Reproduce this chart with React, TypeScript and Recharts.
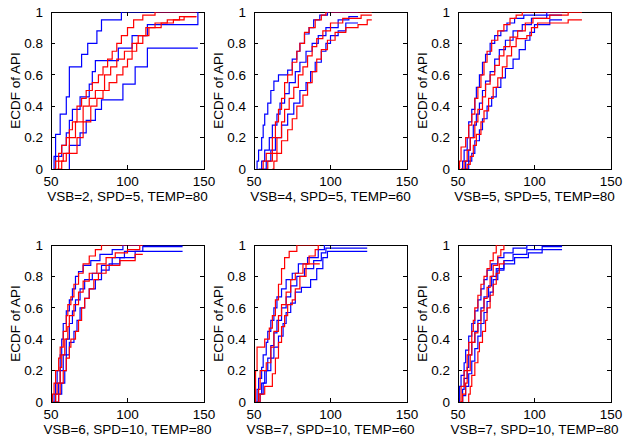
import React from 'react';
import { LineChart, Line, XAxis, YAxis, ReferenceArea } from 'recharts';

// axis ticks shared by all six panels
const xTicks = [50, 100, 150];
const yTicks = [0, 0.2, 0.4, 0.6, 0.8, 1];

const panelLabels = [
  'VSB=2, SPD=5, TEMP=80',
  'VSB=4, SPD=5, TEMP=60',
  'VSB=5, SPD=5, TEMP=80',
  'VSB=6, SPD=10, TEMP=80',
  'VSB=7, SPD=10, TEMP=60',
  'VSB=7, SPD=10, TEMP=80',
];

// each curve: [API, ECDF] step points (upper bound, estimate, lower bound)
const p1Blue = [
  [[53, 0], [53, 0.22], [56, 0.35], [60, 0.46], [62, 0.65], [70, 0.73], [74, 0.8], [80, 0.88], [83, 0.95], [96, 1], [146, 1]],
  [[52, 0], [52, 0.08], [57, 0.15], [60, 0.23], [62, 0.31], [64, 0.38], [69, 0.46], [75, 0.54], [77, 0.62], [79, 0.69], [94, 0.77], [103, 0.85], [113, 0.92], [146, 1]],
  [[62, 0], [62, 0.15], [69, 0.23], [73, 0.31], [79, 0.38], [83, 0.44], [97, 0.54], [105, 0.65], [113, 0.77], [146, 0.77]],
];
const p1Red = [
  [[52, 0], [53, 0.05], [55, 0.1], [57, 0.15], [60, 0.2], [62, 0.25], [64, 0.3], [67, 0.4], [70, 0.45], [73, 0.5], [77, 0.55], [81, 0.6], [84, 0.65], [87, 0.7], [90, 0.75], [93, 0.8], [96, 0.85], [100, 0.9], [104, 0.95], [110, 0.98], [118, 1], [145, 1]],
  [[54, 0], [55, 0.05], [58, 0.1], [62, 0.2], [66, 0.3], [71, 0.4], [75, 0.45], [79, 0.5], [85, 0.6], [89, 0.65], [93, 0.7], [98, 0.75], [103, 0.8], [107, 0.85], [112, 0.9], [118, 0.93], [126, 0.95], [134, 0.97], [145, 0.97]],
  [[55, 0], [57, 0.05], [60, 0.1], [67, 0.2], [71, 0.3], [76, 0.4], [80, 0.45], [84, 0.5], [88, 0.55], [93, 0.6], [97, 0.65], [100, 0.7], [103, 0.75], [106, 0.8], [110, 0.85], [114, 0.9], [122, 0.93], [130, 0.95], [137, 0.97], [145, 0.97]],
];

const p2Blue = [
  [[52, 0], [52, 0.05], [53, 0.12], [55, 0.2], [56, 0.28], [57, 0.35], [59, 0.42], [61, 0.5], [63, 0.56], [66, 0.6], [72, 0.63], [75, 0.7], [78, 0.75], [80, 0.8], [83, 0.86], [86, 0.9], [89, 0.95], [93, 0.98], [98, 1], [118, 1]],
  [[53, 0], [55, 0.05], [57, 0.12], [60, 0.2], [62, 0.28], [65, 0.35], [67, 0.42], [70, 0.48], [73, 0.55], [77, 0.62], [80, 0.68], [84, 0.75], [88, 0.8], [92, 0.85], [97, 0.9], [105, 0.95], [112, 0.97], [118, 0.97]],
  [[55, 0], [58, 0.05], [61, 0.12], [64, 0.2], [68, 0.28], [72, 0.35], [76, 0.42], [80, 0.5], [84, 0.55], [87, 0.62], [90, 0.68], [94, 0.75], [97, 0.8], [100, 0.85], [105, 0.88], [110, 0.93], [118, 0.93]],
];
const p2Red = [
  [[55, 0], [56, 0.05], [58, 0.1], [62, 0.2], [64, 0.3], [66, 0.38], [68, 0.45], [70, 0.55], [72, 0.6], [75, 0.68], [78, 0.75], [80, 0.8], [83, 0.87], [86, 0.9], [90, 0.95], [94, 0.98], [97, 1], [127, 1]],
  [[58, 0], [59, 0.05], [62, 0.1], [65, 0.2], [68, 0.3], [70, 0.38], [73, 0.45], [76, 0.52], [79, 0.6], [82, 0.65], [85, 0.72], [88, 0.78], [91, 0.83], [95, 0.88], [100, 0.93], [108, 0.96], [120, 0.98], [127, 0.98]],
  [[62, 0], [63, 0.05], [65, 0.1], [68, 0.18], [72, 0.25], [75, 0.32], [78, 0.4], [82, 0.47], [85, 0.55], [88, 0.62], [91, 0.7], [94, 0.76], [98, 0.82], [103, 0.87], [110, 0.9], [118, 0.92], [124, 0.95], [127, 0.95]],
];

const p3Blue = [
  [[52, 0], [53, 0.05], [54, 0.12], [56, 0.2], [57, 0.3], [59, 0.38], [61, 0.45], [62, 0.52], [64, 0.6], [66, 0.68], [68, 0.73], [71, 0.8], [74, 0.85], [78, 0.88], [82, 0.93], [87, 0.96], [93, 0.98], [108, 1], [118, 1]],
  [[54, 0], [55, 0.05], [57, 0.12], [58, 0.2], [60, 0.28], [62, 0.35], [64, 0.42], [66, 0.5], [68, 0.56], [71, 0.62], [74, 0.7], [77, 0.76], [81, 0.82], [86, 0.88], [92, 0.92], [98, 0.96], [108, 0.98], [118, 0.98]],
  [[55, 0], [57, 0.05], [59, 0.1], [61, 0.18], [64, 0.25], [66, 0.32], [69, 0.4], [72, 0.46], [75, 0.52], [78, 0.58], [81, 0.64], [86, 0.7], [90, 0.76], [94, 0.82], [97, 0.87], [100, 0.92], [110, 0.95], [118, 0.95]],
];
const p3Red = [
  [[51, 0], [51, 0.05], [52, 0.14], [55, 0.2], [57, 0.28], [59, 0.35], [61, 0.45], [63, 0.52], [65, 0.6], [67, 0.68], [69, 0.75], [72, 0.82], [76, 0.88], [80, 0.92], [84, 0.96], [88, 0.98], [92, 1], [131, 1]],
  [[52, 0], [54, 0.05], [56, 0.12], [58, 0.2], [61, 0.3], [63, 0.38], [66, 0.46], [68, 0.54], [71, 0.6], [74, 0.66], [77, 0.72], [80, 0.78], [84, 0.84], [89, 0.88], [94, 0.93], [99, 0.96], [110, 0.98], [122, 1], [131, 1]],
  [[55, 0], [56, 0.03], [58, 0.08], [60, 0.15], [62, 0.22], [65, 0.3], [67, 0.37], [70, 0.45], [73, 0.52], [76, 0.58], [79, 0.65], [82, 0.72], [85, 0.78], [88, 0.83], [95, 0.85], [98, 0.9], [102, 0.93], [122, 0.95], [131, 0.95]],
];

const p4Blue = [
  [[51, 0], [52, 0.05], [53, 0.12], [54, 0.2], [56, 0.3], [57, 0.4], [58, 0.5], [60, 0.58], [62, 0.65], [64, 0.72], [66, 0.8], [68, 0.83], [71, 0.87], [76, 0.9], [82, 0.94], [90, 0.97], [97, 1], [136, 1]],
  [[52, 0], [53, 0.05], [55, 0.12], [56, 0.2], [58, 0.3], [60, 0.4], [62, 0.5], [64, 0.58], [66, 0.65], [69, 0.72], [72, 0.78], [77, 0.82], [83, 0.87], [90, 0.92], [98, 0.96], [110, 0.99], [136, 0.99]],
  [[53, 0], [55, 0.05], [57, 0.12], [59, 0.2], [60, 0.3], [62, 0.38], [65, 0.45], [67, 0.52], [69, 0.6], [72, 0.66], [75, 0.72], [79, 0.78], [83, 0.84], [88, 0.88], [95, 0.92], [105, 0.96], [136, 0.96]],
];
const p4Red = [
  [[51, 0], [51, 0.05], [52, 0.12], [53, 0.2], [55, 0.28], [56, 0.35], [58, 0.45], [60, 0.55], [61, 0.62], [63, 0.67], [65, 0.75], [68, 0.82], [71, 0.88], [75, 0.93], [79, 0.97], [83, 1], [110, 1]],
  [[52, 0], [53, 0.05], [54, 0.12], [56, 0.22], [57, 0.3], [59, 0.4], [61, 0.48], [62, 0.55], [65, 0.62], [68, 0.7], [71, 0.77], [75, 0.82], [80, 0.88], [86, 0.92], [92, 0.95], [100, 0.97], [108, 1], [110, 1]],
  [[53, 0], [55, 0.05], [56, 0.12], [58, 0.2], [60, 0.28], [62, 0.35], [63, 0.4], [66, 0.45], [68, 0.52], [70, 0.6], [72, 0.66], [75, 0.72], [78, 0.78], [81, 0.82], [86, 0.87], [95, 0.9], [105, 0.94], [110, 0.94]],
];

const p5Blue = [
  [[51, 0], [52, 0.08], [53, 0.15], [55, 0.22], [56, 0.3], [58, 0.38], [59, 0.45], [61, 0.52], [63, 0.6], [65, 0.67], [68, 0.72], [71, 0.78], [75, 0.82], [79, 0.88], [85, 0.92], [92, 0.97], [96, 1], [124, 1]],
  [[52, 0], [53, 0.05], [55, 0.12], [57, 0.2], [59, 0.28], [61, 0.36], [63, 0.44], [65, 0.52], [68, 0.6], [71, 0.67], [74, 0.74], [78, 0.8], [83, 0.85], [89, 0.9], [94, 0.95], [97, 0.98], [124, 0.98]],
  [[52, 0], [54, 0.05], [56, 0.12], [58, 0.2], [61, 0.28], [63, 0.35], [66, 0.42], [69, 0.5], [71, 0.57], [74, 0.63], [77, 0.7], [81, 0.73], [87, 0.78], [91, 0.85], [95, 0.92], [98, 0.96], [124, 0.96]],
];
const p5Red = [
  [[51, 0], [51, 0.2], [52, 0.35], [57, 0.4], [60, 0.47], [62, 0.55], [64, 0.65], [66, 0.75], [68, 0.85], [70, 0.92], [73, 0.96], [78, 1], [93, 1]],
  [[52, 0], [53, 0.08], [54, 0.2], [58, 0.25], [61, 0.35], [63, 0.45], [66, 0.55], [68, 0.62], [71, 0.7], [74, 0.78], [77, 0.82], [82, 0.88], [86, 0.93], [90, 0.97], [92, 1], [93, 1]],
  [[53, 0], [54, 0.05], [57, 0.1], [62, 0.18], [64, 0.28], [66, 0.38], [68, 0.48], [70, 0.55], [72, 0.62], [75, 0.65], [77, 0.72], [80, 0.8], [84, 0.88], [93, 0.88]],
];

const p6Blue = [
  [[51, 0], [51, 0.1], [52, 0.17], [54, 0.25], [55, 0.33], [57, 0.42], [59, 0.5], [61, 0.58], [63, 0.65], [65, 0.72], [67, 0.78], [69, 0.84], [72, 0.88], [76, 0.92], [80, 0.95], [86, 0.98], [95, 1], [118, 1]],
  [[52, 0], [53, 0.08], [54, 0.15], [56, 0.22], [57, 0.3], [59, 0.38], [61, 0.45], [63, 0.52], [65, 0.6], [67, 0.67], [70, 0.74], [72, 0.8], [75, 0.85], [80, 0.9], [86, 0.94], [95, 0.97], [105, 0.99], [118, 0.99]],
  [[52, 0], [53, 0.04], [55, 0.1], [57, 0.18], [59, 0.26], [61, 0.34], [63, 0.42], [65, 0.5], [67, 0.57], [69, 0.64], [71, 0.7], [73, 0.78], [76, 0.84], [80, 0.88], [87, 0.92], [96, 0.95], [105, 0.97], [118, 0.97]],
];
const p6Red = [
  [[51, 0], [52, 0.1], [54, 0.2], [56, 0.3], [57, 0.38], [59, 0.45], [60, 0.52], [61, 0.6], [63, 0.68], [65, 0.75], [67, 0.8], [69, 0.85], [71, 0.9], [73, 0.95], [75, 1], [80, 1]],
  [[52, 0], [53, 0.05], [55, 0.12], [56, 0.2], [58, 0.3], [59, 0.38], [61, 0.44], [63, 0.5], [65, 0.58], [67, 0.66], [69, 0.73], [71, 0.8], [73, 0.87], [76, 0.93], [78, 0.97], [80, 1]],
  [[57, 0], [57, 0.05], [58, 0.1], [59, 0.17], [61, 0.25], [63, 0.32], [64, 0.38], [66, 0.45], [68, 0.52], [69, 0.6], [71, 0.68], [73, 0.75], [75, 0.82], [77, 0.88], [80, 0.9]],
];

const panelBlue = [p1Blue, p2Blue, p3Blue, p4Blue, p5Blue, p6Blue];
const panelRed = [p1Red, p2Red, p3Red, p4Red, p5Red, p6Red];

// layout (pixels)
const COL_X = [51, 254, 458];
const ROW_Y = [12, 245];
const PLOT_W = 153;
const PLOT_H = 157;
const PAD_L = 51;
const PAD_T = 12;
const CHART_W = 228;
const CHART_H = 222;
const X_AXIS_H = 49;
const FONT = 13.5;
const TICK_LEN = 4;

const toPoints = (curve: number[][]) => curve.map(([x, y]) => ({ x, y }));

const XTick = ({ x, y, payload }: any) => (
  <g>
    <text x={x} y={y} dy="0.71em" textAnchor="middle" fontSize={FONT} fill="#000">
      {payload.value}
    </text>
    <line x1={x} x2={x} y1={PAD_T + PLOT_H} y2={PAD_T + PLOT_H - TICK_LEN} stroke="#000" shapeRendering="crispEdges" />
    <line x1={x} x2={x} y1={PAD_T} y2={PAD_T + TICK_LEN} stroke="#000" shapeRendering="crispEdges" />
  </g>
);

const YTick = ({ x, y, payload }: any) => (
  <g>
    <text x={x} y={y} dy="0.355em" textAnchor="end" fontSize={FONT} fill="#000">
      {payload.value}
    </text>
    <line x1={PAD_L} x2={PAD_L + TICK_LEN} y1={y} y2={y} stroke="#000" shapeRendering="crispEdges" />
    <line x1={PAD_L + PLOT_W} x2={PAD_L + PLOT_W - TICK_LEN} y1={y} y2={y} stroke="#000" shapeRendering="crispEdges" />
  </g>
);

function Panel({ index }: { index: number }) {
  const left = COL_X[index % 3] - PAD_L;
  const top = ROW_Y[Math.floor(index / 3)] - PAD_T;
  return (
    <div style={{ position: 'absolute', left, top }}>
      <LineChart
        width={CHART_W}
        height={CHART_H}
        margin={{ top: PAD_T, right: CHART_W - PAD_L - PLOT_W, bottom: CHART_H - PAD_T - PLOT_H - X_AXIS_H, left: 5 }}
      >
        <XAxis
          type="number"
          dataKey="x"
          domain={[50, 150]}
          ticks={xTicks}
          interval={0}
          allowDataOverflow
          axisLine={false}
          tickSize={0}
          tickMargin={7}
          height={X_AXIS_H}
          tick={(p: any) => <XTick {...p} />}
          label={{ value: panelLabels[index], position: 'insideBottom', offset: 17, style: { fill: '#000', fontSize: FONT } }}
        />
        <YAxis
          type="number"
          domain={[0, 1]}
          ticks={yTicks}
          interval={0}
          allowDataOverflow
          axisLine={false}
          tickSize={0}
          tickMargin={8}
          width={PAD_L - 5}
          tick={(p: any) => <YTick {...p} />}
          label={{ value: 'ECDF of API', angle: -90, position: 'insideLeft', offset: 10.5, style: { fill: '#000', fontSize: FONT, textAnchor: 'middle' } }}
        />
        <ReferenceArea x1={50} x2={150} y1={0} y2={1} fill="none" fillOpacity={0} stroke="#000" strokeWidth={1} shapeRendering="crispEdges" />
        {panelBlue[index].map((c, i) => (
          <Line key={'b' + i} data={toPoints(c)} dataKey="y" type="stepAfter" stroke="#0000ff" strokeWidth={1.2} dot={false} activeDot={false} isAnimationActive={false} />
        ))}
        {panelRed[index].map((c, i) => (
          <Line key={'r' + i} data={toPoints(c)} dataKey="y" type="stepAfter" stroke="#ff0000" strokeWidth={1.2} dot={false} activeDot={false} isAnimationActive={false} />
        ))}
      </LineChart>
    </div>
  );
}

export default function App() {
  return (
    <div
      style={{
        position: 'absolute',
        left: 0,
        top: 0,
        width: 625,
        height: 436,
        overflow: 'hidden',
        background: '#fff',
        fontFamily: '"Liberation Sans", Arial, sans-serif',
      }}
    >
      {panelLabels.map((_, i) => (
        <Panel key={i} index={i} />
      ))}
    </div>
  );
}
